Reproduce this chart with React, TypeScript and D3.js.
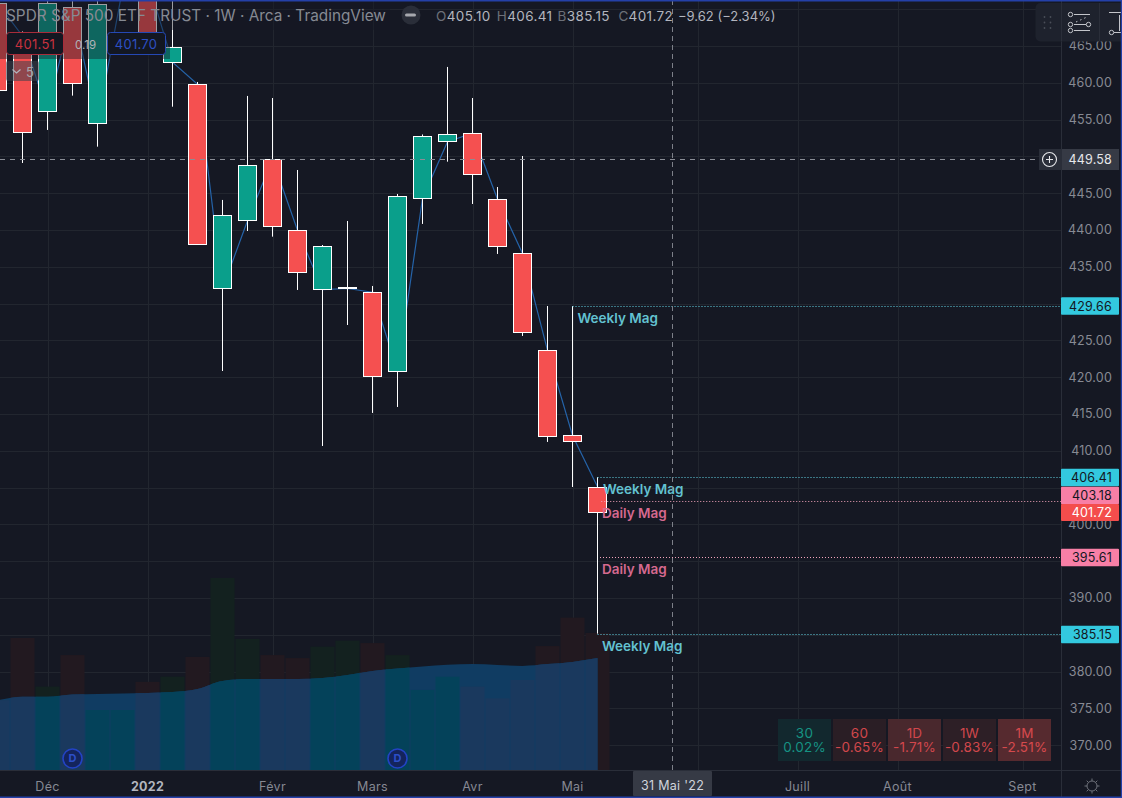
import React from "react";
import * as d3 from "d3";

const W = 1122, H = 798;
const FONT = "Inter, 'Noto Sans', sans-serif";

const weekIndex = [-1,0,1,2,3,4,5,6,7,8,9,10,11,12,13,14,15,16,17,18,19,20,21,22,23];
const opens =  [470.83,466.35,456.06,470.25,454.49,472.73,473.96,462.78,459.79,432.01,441.25,449.60,439.95,431.88,432.04,431.53,420.83,444.27,451.99,453.13,444.16,436.80,423.62,412.07,405.10];
const highs =  [471.5,467.0,472.5,472.0,472.5,478.0,475.0,472.0,460.10,444.07,458.20,457.92,448.14,437.95,441.21,432.38,444.88,452.97,462.14,457.92,445.83,450.04,429.66,429.66,406.41];
const lows =   [458.8,449.09,453.58,458.24,451.31,472.3,464.8,456.74,438.05,420.83,439.85,439.08,431.84,410.64,427.08,415.13,415.94,440.81,449.27,443.52,436.73,425.59,411.19,405.07,385.15];
const closes = [459.01,453.35,470.79,459.92,470.70,476.70,464.85,464.81,438.05,441.99,448.78,440.44,434.24,437.78,432.24,420.15,444.57,452.72,452.99,447.56,437.82,426.13,411.93,411.25,401.72];
const volumes = [233,440,278,383,200,200,294,311,377,640,437,383,373,411,431,423,383,267,311,278,239,300,413,508,457];
const volumeMA = [232,244,244,252,253,255,257,260,270,297,303,303,303,307,317,330,338,345,351,353,350,347,353,360,373];

const gridPrices = [470,465,460,455,450,445,440,435,430,425,420,415,410,405,400,395,390,385,380,375,370];
const tickLabels = [465,460,455,445,440,435,425,420,415,410,400,390,380,375,370];
const monthIdx = [1,5,10,14,18,22,27,31,35,40];
const monthLabels = ["Déc","2022","Févr","Mars","Avr","Mai","Juin","Juill","Août","Sept"];
const dividendIdx = [2,15];

const levelPrices = [429.66,406.41,403.18,395.61,385.15];
const levelKinds = ["w","w","d","d","w"];
const levelStart = [22,23,23.15,23.1,23];
const levelTagY = [306,477.5,495.5,557.5,634.5];

const magTexts = ["Weekly Mag","Weekly Mag","Daily Mag","Daily Mag","Weekly Mag"];
const magKinds = ["w","w","d","d","w"];
const magX = [577.5,603,602,602,602];
const magY = [318,489,513,569,646];

const tfNames = ["30","60","1D","1W","1M"];
const tfValues = ["0.02%","-0.65%","-1.71%","-0.83%","-2.51%"];
const tfFills = ["#12292f","#2c1f26","#4c292e","#2f2027","#5a2c30"];
const tfColors = ["#169a89","#dc4a4e","#dc4a4e","#dc4a4e","#e04d50"];

const headerValues = [["O","405.10"],["H","406.41"],["B","385.15"],["C","401.72"]];

const BG = "#151823", GRID = "#22262f", AXIS = "#2a2e39";
const UP = "#0a9f8b", DOWN = "#f55050";
const CYAN = "#33c9df", PINK = "#f87fa6";

const x = d3.scaleLinear().domain([0, 1]).range([22.5, 47.5]);
const y = d3.scaleLinear().domain([460, 370]).range([82.7, 745.1]);
const vy = d3.scaleLinear().domain([0, 640]).range([770, 578]);

const px = (v: number) => Math.round(v) + 0.5;

function App() {
  const openLine = d3.line<number>().x((_, i) => x(weekIndex[i])).y(d => y(d))(opens) || "";
  const maArea = d3.area<number>().x((_, i) => x(weekIndex[i])).y0(770).y1(d => vy(d)).curve(d3.curveMonotoneX)(volumeMA) || "";
  const isUp = (i: number) => closes[i] >= opens[i];
  return (
    <svg width={W} height={H} viewBox={`0 0 ${W} ${H}`} style={{ position: "fixed", left: 0, top: 0, display: "block", background: BG }} fontFamily={FONT}>
      <defs>
        <clipPath id="plot"><rect x={0} y={0} width={1061} height={770} /></clipPath>
        <clipPath id="ma"><path d={maArea} /></clipPath>
      </defs>
      <rect width={W} height={H} fill={BG} />
      {gridPrices.map(p => <line key={p} x1={0} x2={1061} y1={px(y(p))} y2={px(y(p))} stroke={GRID} />)}
      {monthIdx.map(m => <line key={m} x1={px(x(m))} x2={px(x(m))} y1={0} y2={770} stroke={GRID} />)}

      <g clipPath="url(#plot)">
        {volumes.map((v, i) => (
          <rect key={i} x={x(weekIndex[i]) - 12} width={24} y={vy(v)} height={770 - vy(v)} fill={isUp(i) ? "#13211f" : "#221920"} />
        ))}
        <path d={maArea} fill="#103c62" />
        <g clipPath="url(#ma)">
          {volumes.map((v, i) => (
            <rect key={i} x={x(weekIndex[i]) - 12} width={24} y={vy(v)} height={770 - vy(v)} fill={isUp(i) ? "#04425a" : "#1a395e"} />
          ))}
        </g>
        <path d={openLine} fill="none" stroke="#2563a8" strokeWidth={1.2} />
        {opens.map((o, i) => {
          const cx = x(weekIndex[i]);
          const top = y(Math.max(o, closes[i]));
          const bot = y(Math.min(o, closes[i]));
          return (
            <g key={i}>
              <line x1={cx} x2={cx} y1={y(highs[i])} y2={y(lows[i])} stroke="#fff" />
              <rect x={cx - 9} width={18} y={px(top)} height={Math.max(1, Math.round(bot - top))} fill={isUp(i) ? UP : DOWN} stroke="#fff" />
            </g>
          );
        })}
        {levelPrices.map((p, i) => (
          <line key={p} x1={x(levelStart[i])} x2={1061} y1={px(y(p))} y2={px(y(p))}
            stroke={levelKinds[i] === "w" ? "#62d3e4" : "#f2a3bb"} strokeDasharray="1 2" />
        ))}
        {magTexts.map((t, i) => (
          <text key={i} x={magX[i]} y={magY[i]} dy="0.36em" fontSize={13.5} fontWeight={600}
            fill={magKinds[i] === "w" ? "#63c2d1" : "#d5698f"}>{t}</text>
        ))}
        {dividendIdx.map(d => (
          <g key={d}>
            <circle cx={x(d)} cy={758.5} r={9.5} fill="#14245c" stroke="#2343c4" strokeWidth={1.6} />
            <text x={x(d)} y={758.5} dy="0.36em" textAnchor="middle" fontSize={11} fontWeight={700} fill="#2c4fc8">D</text>
          </g>
        ))}
      </g>

      {/* crosshair */}
      <line x1={672.5} x2={672.5} y1={0} y2={770} stroke="#7d8089" strokeDasharray="5 4" />
      <line x1={0} x2={1040} y1={159.5} y2={159.5} stroke="#8a8d96" strokeDasharray="5 5" />

      {/* legend overlay */}
      <rect x={0} y={0} width={170} height={59} fill={BG} opacity={0.42} />
      <rect x={170} y={0} width={220} height={30} fill={BG} opacity={0.42} />
      <text x={6} y={21} fontSize={15.35} fill="#868a93">SPDR S&amp;P 500 ETF TRUST · 1W · Arca · TradingView</text>
      <circle cx={411} cy={15} r={9.5} fill="#2a2e39" />
      <rect x={405} y={13.5} width={11} height={3} rx={1.5} fill="#a6a8ae" />
      {headerValues.map(([k, v], i) => (
        <text key={k} x={436 + i * 60.8} y={20.5} fontSize={13.5} letterSpacing={0.35}>
          <tspan fill="#6c7079">{k}</tspan><tspan fill="#b2b5be">{v}</tspan>
        </text>
      ))}
      <text x={678} y={20.5} fontSize={13} fill="#b2b5be">−9.62 (−2.34%)</text>

      <rect x={6.5} y={32.5} width={57} height={22} rx={3} fill="#131722" stroke="#a82c3a" />
      <text x={35} y={44} dy="0.36em" textAnchor="middle" fontSize={13} fill="#c8323f" letterSpacing={0.3}>401.51</text>
      <text x={85.5} y={44.5} dy="0.36em" textAnchor="middle" fontSize={11.5} fill="#b0b2b8">0.19</text>
      <rect x={107.5} y={32.5} width={58} height={22} rx={3} fill="#131722" stroke="#2548b4" />
      <text x={136} y={44} dy="0.36em" textAnchor="middle" fontSize={13} fill="#2d50c4" letterSpacing={0.3}>401.70</text>
      <rect x={6} y={61} width={33} height={20} rx={2} fill="#3a3f4a" opacity={0.55} />
      <path d="M12.5 69.5 L16.5 73 L20.5 69.5" fill="none" stroke="#b2b5be" strokeWidth={1.2} />
      <text x={30} y={72} dy="0.36em" textAnchor="middle" fontSize={13} fill="#a6a8ae">5</text>

      {/* price axis */}
      <rect x={1061} y={0} width={61} height={771} fill={BG} />
      <line x1={1061.5} x2={1061.5} y1={0} y2={798} stroke={AXIS} />
      <line x1={0} x2={1122} y1={770.5} y2={770.5} stroke={AXIS} />
      {tickLabels.map(p => (
        <text key={p} x={1112} y={y(p)} dy="0.36em" textAnchor="end" fontSize={12.5} fill="#878a93" letterSpacing={0.2}>{p.toFixed(2)}</text>
      ))}

      {/* toolbar */}
      <rect x={1035.5} y={3} width={100} height={38.5} rx={5} fill="#1e222d" />
      <line x1={1061.5} x2={1061.5} y1={3} y2={41} stroke="#2a2e39" />
      <line x1={1099.5} x2={1099.5} y1={3} y2={41} stroke="#2a2e39" />
      {[17, 22.5, 28].map(cy => [1044.5, 1050.5].map(cx => <circle key={`${cx}-${cy}`} cx={cx} cy={cy} r={0.9} fill="#4a4e58" />))}
      <g stroke="#c3c5ca" fill="none">
        <line x1={1074} x2={1090} y1={14.5} y2={14.5} />
        <line x1={1074} x2={1086} y1={24.5} y2={24.5} />
        <line x1={1074} x2={1090} y1={30.5} y2={30.5} />
        <line x1={1076} x2={1087} y1={22} y2={17} strokeDasharray="1.5 3" />
        <circle cx={1070.5} cy={14.5} r={2.2} /><circle cx={1070.5} cy={24.5} r={2.2} />
        <circle cx={1070.5} cy={30.5} r={2.2} /><circle cx={1088.5} cy={24.5} r={2.2} />
        <line x1={1109} x2={1122} y1={12.5} y2={12.5} />
        <line x1={1119.5} x2={1119.5} y1={15} y2={31} />
        <line x1={1114} x2={1122} y1={32.5} y2={32.5} />
        <circle cx={1111.5} cy={32.5} r={2.2} />
      </g>

      {/* level tags */}
      {levelPrices.map((p, i) => (
        <g key={p}>
          <rect x={1061} y={levelTagY[i] - 8.75} width={58} height={17.5} rx={1} fill={levelKinds[i] === "w" ? CYAN : PINK} />
          <text x={1112} y={levelTagY[i]} dy="0.36em" textAnchor="end" fontSize={12.5} fill="#131722" letterSpacing={0.2}>{p.toFixed(2)}</text>
        </g>
      ))}
      <rect x={1061} y={504} width={58} height={17} rx={1} fill="#f44d4c" />
      <text x={1112} y={512.5} dy="0.36em" textAnchor="end" fontSize={12.5} fill="#fff" letterSpacing={0.2}>{closes[24].toFixed(2)}</text>

      <rect x={1039} y={149} width={22} height={21} fill="#2a2e39" />
      <rect x={1062} y={149} width={57} height={21} fill="#363a45" />
      <circle cx={1049.5} cy={159.5} r={7} fill="none" stroke="#e6e7ea" strokeWidth={1.1} />
      <path d="M1046 159.5H1053M1049.5 156V163" stroke="#e6e7ea" strokeWidth={1.1} />
      <text x={1112} y={159.5} dy="0.36em" textAnchor="end" fontSize={12.5} fill="#e6e7ea" letterSpacing={0.2}>449.58</text>

      {/* percent table */}
      {tfNames.map((n, i) => (
        <g key={n} textAnchor="middle" fontSize={13.5} fill={tfColors[i]} opacity={0.95} letterSpacing={0.2}>
          <rect x={778 + i * 55} y={719} width={53} height={42} fill={tfFills[i]} />
          <text x={804.5 + i * 55} y={733} dy="0.36em">{n}</text>
          <text x={804.5 + i * 55} y={747.5} dy="0.36em">{tfValues[i]}</text>
        </g>
      ))}

      {/* time axis */}
      {monthIdx.map((m, i) => (
        <text key={m} x={x(m)} y={786} dy="0.36em" textAnchor="middle" fontSize={12.5}
          fontWeight={monthLabels[i] === "2022" ? 700 : 400} fill={monthLabels[i] === "2022" ? "#b2b5be" : "#868993"} letterSpacing={0.3}>{monthLabels[i] === "Juin" ? "" : monthLabels[i]}</text>
      ))}
      <rect x={633} y={771} width={79} height={25} rx={1} fill="#363a45" />
      <text x={672.5} y={785} dy="0.36em" textAnchor="middle" fontSize={12.5} fill="#d1d4dc" letterSpacing={0.3}>31 Mai '22</text>
      <g stroke="#6f727b" fill="none" strokeWidth={1}>
        <circle cx={1092} cy={786} r={5} />
        {d3.range(8).map(k => {
          const a = (k * Math.PI) / 4;
          return <line key={k} x1={1092 + 5 * Math.cos(a)} y1={786 + 5 * Math.sin(a)} x2={1092 + 7.5 * Math.cos(a)} y2={786 + 7.5 * Math.sin(a)} />;
        })}
      </g>

      {/* window frame */}
      <rect x={0} y={0} width={W} height={1.5} fill="#2440a8" />
      <rect x={0} y={796.5} width={W} height={1.5} fill="#2440a8" />
      <rect x={1120.8} y={0} width={1.2} height={H} fill="#2440a8" />
    </svg>
  );
}

export default App;
